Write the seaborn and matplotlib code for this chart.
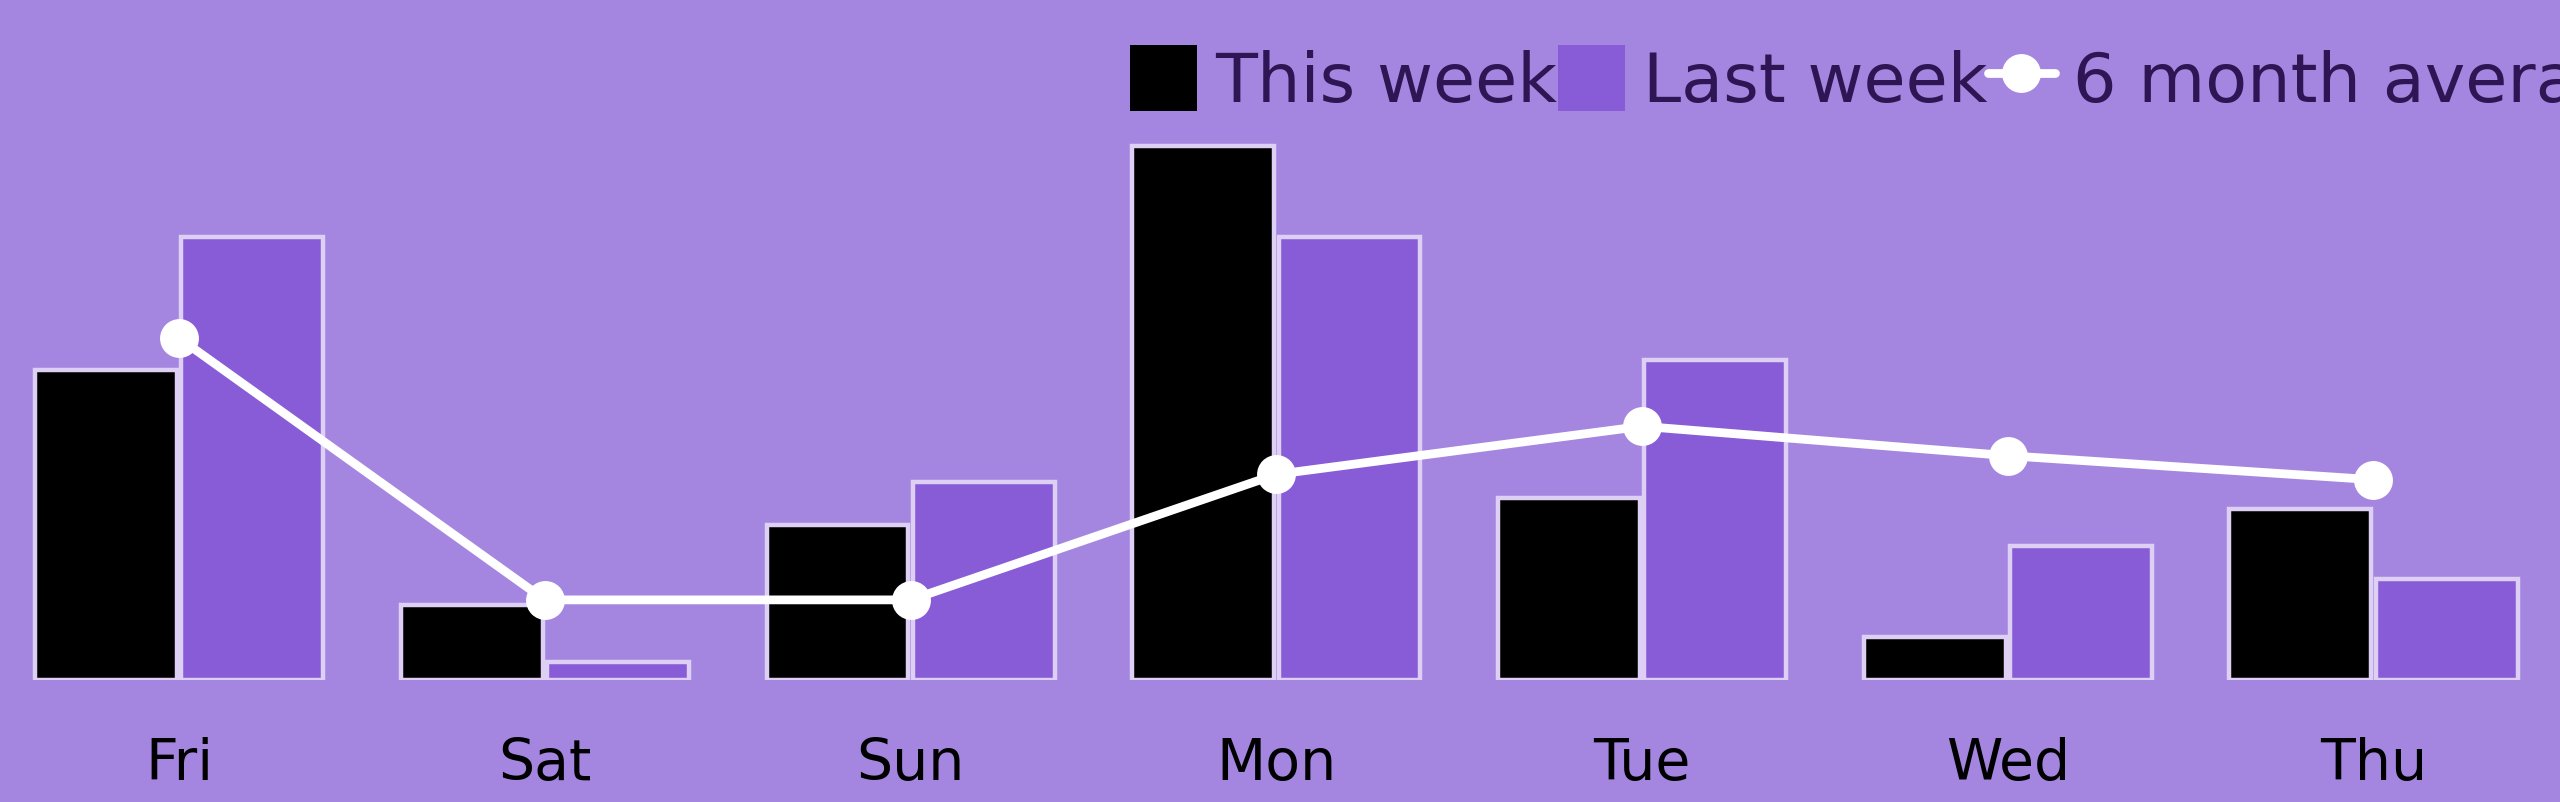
import numpy as np
import pandas as pd
import matplotlib
matplotlib.use("Agg")
import matplotlib.pyplot as plt
from matplotlib.patches import Patch
from matplotlib.lines import Line2D
import seaborn as sns

days = ["Fri", "Sat", "Sun", "Mon", "Tue", "Wed", "Thu"]
this_week = [58, 14, 29, 100, 34, 8, 32]
last_week = [83, 3.4, 37, 83, 60, 25, 19]
six_month_avg = [64, 15, 15, 38.5, 47.5, 42, 37.5]
series_names = ["This week", "Last week", "6 month average"]

BG = "#a486e0"
PURPLE = "#885cd6"
EDGE = "#ddd0f4"
LEGEND_TXT = "#2e1654"

sns.set_theme(style="white")
plt.rcParams["font.family"] = ["DejaVu Sans"]

df = pd.DataFrame({
    "day": days * 2,
    "value": this_week + last_week,
    "series": [series_names[0]] * len(days) + [series_names[1]] * len(days),
})

fig = plt.figure(figsize=(25.6, 8.03), dpi=100, facecolor=BG)
ax = fig.add_axes([0, 1 - 681 / 803, 1, 681 / 803])
ax.set_facecolor(BG)

sns.barplot(data=df, x="day", y="value", hue="series", order=days,
            hue_order=series_names[:2], palette=["#000000", PURPLE],
            edgecolor=EDGE, linewidth=3.2, width=0.8, gap=0.03, ax=ax,
            legend=False, saturation=1)

sns.pointplot(x=days, y=six_month_avg, order=days, color="white",
              marker="o", markersize=28, linewidth=6.3, ax=ax,
              markeredgewidth=0)

ax.set_xlim(-0.49, 6.51)
ax.set_ylim(0, 127.5)
ax.set_xlabel("")
ax.set_ylabel("")
ax.set_yticks([])
ax.tick_params(axis="x", length=0, pad=40, labelsize=41, labelcolor="black")
for s in ax.spines.values():
    s.set_visible(False)

handles = [
    Patch(facecolor="#000000", edgecolor=BG, linewidth=0),
    Patch(facecolor=PURPLE, edgecolor=BG, linewidth=0),
    Line2D([0], [0], color="white", linewidth=6.3, marker="o",
           markersize=28, markeredgewidth=0),
]
leg = fig.legend(handles, series_names, loc="upper left",
                 bbox_to_anchor=(1130 / 2560, 1 - 46 / 803), ncol=3,
                 frameon=False, fontsize=49.3, handlelength=0.98,
                 handleheight=1.11, handletextpad=0.27, columnspacing=0.0,
                 borderpad=0, borderaxespad=0, labelcolor=LEGEND_TXT)

fig.savefig("out.png", dpi=100, facecolor=BG)
